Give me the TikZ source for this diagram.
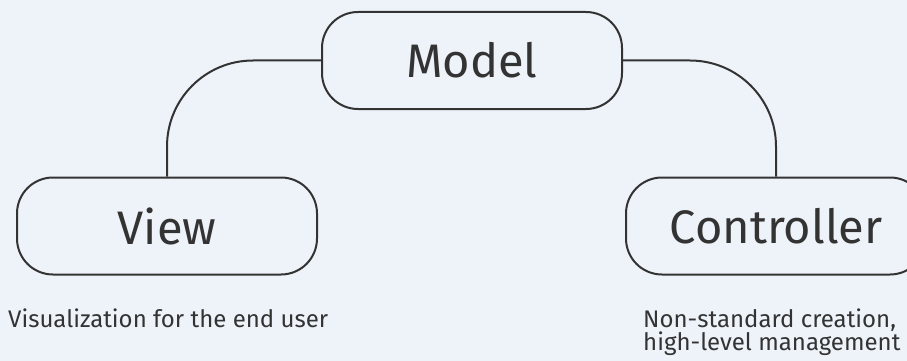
\documentclass[tikz,border=0pt]{standalone}
\usepackage{fontspec}
\setmainfont{Fira Sans}
\usetikzlibrary{positioning}

\definecolor{bg}{RGB}{238,243,250}
\definecolor{ink}{RGB}{51,51,51}

\begin{document}
\begin{tikzpicture}[x=1pt, y=-1pt,
	box/.style = {draw=ink, line width=2pt, rounded corners=36pt, minimum width=300pt,
		minimum height=97pt, text=ink, font=\fontsize{47}{50}\selectfont},
	link/.style = {draw=ink, line width=2pt, rounded corners=86pt},
	note/.style = {text=ink, font=\fontsize{24}{23}\selectfont, inner sep=0pt, align=left}]
	
	% page
	\fill[bg] (0,0) rectangle (907,361);
	\useasboundingbox (0,0) rectangle (907,361);
	
	\node[box] (m) at (472,60.5) {Model};
	\node[box] (v) at (167,226) {View};
	\node[box] (c) at (776,226) {Controller};
	
	\draw[link] (m.west) -| (v.north);
	\draw[link] (m.east) -| (c.north);
	
	% notes, base is the last line
	\node[note, anchor=base west] (vn) at (8,327) {Visualization for the end user};
	\node[note, anchor=base west] (cn) at (643,350) {Non-standard creation,\\high-level management};
	
\end{tikzpicture}
\end{document}
